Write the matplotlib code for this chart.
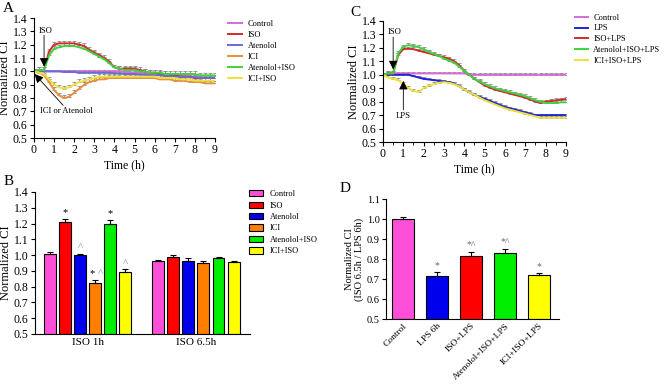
import numpy as np
import matplotlib
matplotlib.use("Agg")
import matplotlib.pyplot as plt

plt.rcParams['font.family'] = ['Liberation Serif', 'DejaVu Serif']
plt.rcParams['font.size'] = 8

# ---------------- data ----------------
time_h = [i * 0.25 for i in range(37)]

# Panel A
a_labels = ["Control", "ISO", "Atenolol", "ICI", "Atenolol+ISO", "ICI+ISO"]
a_colors = ["#D66BD6", "#D42A2A", "#6A6AD8", "#E8903A", "#3CD43C", "#EDE33C"]
a_control = [1.0, 1.0, 1.0, 1.0, 1.0, 1.0, 1.0, 1.0, 1.0, 1.0, 1.0, 1.0, 1.0, 1.0, 1.0, 1.0,
             1.0, 1.0, 0.995, 0.995, 0.99, 0.99, 0.99, 0.985, 0.98, 0.98, 0.975, 0.975, 0.97,
             0.97, 0.965, 0.96, 0.96, 0.955, 0.955, 0.95, 0.95]
a_iso = [1.0, 1.01, 1.01, 1.15, 1.20, 1.21, 1.21, 1.21, 1.21, 1.20, 1.19, 1.16, 1.14, 1.12,
         1.10, 1.07, 1.03, 1.02, 1.02, 1.02, 1.02, 1.01, 1.0, 0.99, 0.99, 0.98, 0.98, 0.97,
         0.97, 0.96, 0.96, 0.96, 0.95, 0.95, 0.95, 0.95, 0.95]
a_atenolol = [1.0, 1.0, 1.0, 1.0, 1.0, 1.0, 0.995, 0.995, 0.995, 0.99, 0.99, 0.99, 0.99, 0.99,
              0.99, 0.99, 0.985, 0.985, 0.98, 0.98, 0.98, 0.975, 0.975, 0.97, 0.97, 0.97,
              0.965, 0.965, 0.96, 0.96, 0.96, 0.955, 0.955, 0.95, 0.95, 0.95, 0.95]
a_ici = [1.0, 0.99, 0.97, 0.92, 0.86, 0.82, 0.80, 0.81, 0.84, 0.87, 0.90, 0.92, 0.93, 0.94,
         0.94, 0.95, 0.95, 0.95, 0.95, 0.95, 0.95, 0.95, 0.95, 0.95, 0.95, 0.94, 0.94, 0.94,
         0.93, 0.93, 0.93, 0.92, 0.92, 0.92, 0.91, 0.91, 0.91]
a_aten_iso = [1.0, 1.01, 1.01, 1.12, 1.17, 1.18, 1.19, 1.19, 1.19, 1.18, 1.17, 1.15, 1.13,
              1.11, 1.09, 1.06, 1.03, 1.02, 1.01, 1.01, 1.01, 1.0, 1.0, 0.99, 0.99, 0.99,
              0.98, 0.98, 0.98, 0.98, 0.98, 0.98, 0.98, 0.97, 0.97, 0.97, 0.97]
a_ici_iso = [1.0, 0.99, 0.98, 0.94, 0.90, 0.88, 0.87, 0.88, 0.90, 0.92, 0.93, 0.94, 0.95,
             0.96, 0.96, 0.96, 0.96, 0.96, 0.96, 0.96, 0.96, 0.96, 0.96, 0.96, 0.96, 0.95,
             0.95, 0.95, 0.95, 0.94, 0.94, 0.94, 0.93, 0.93, 0.93, 0.93, 0.93]
a_err = [0.012, 0.02, 0.012, 0.02, 0.02, 0.02]

# Panel C
c_labels = ["Control", "LPS", "ISO+LPS", "Atenolol+ISO+LPS", "ICI+ISO+LPS"]
c_colors = ["#D66BD6", "#2222D8", "#D42A2A", "#3CD43C", "#EDE33C"]
c_control = [1.0, 1.01, 1.01, 1.01, 1.01, 1.01, 1.01, 1.01, 1.01, 1.01, 1.01, 1.01, 1.01,
             1.01, 1.01, 1.01, 1.01, 1.0, 1.0, 1.0, 1.0, 1.0, 1.0, 1.0, 1.0, 1.0, 1.0, 1.0,
             1.0, 1.0, 1.0, 1.0, 1.0, 1.0, 1.0, 1.0, 1.0]
c_lps = [1.0, 1.0, 1.0, 1.0, 1.0, 1.0, 0.99, 0.98, 0.97, 0.965, 0.96, 0.955, 0.95, 0.945,
         0.935, 0.915, 0.89, 0.87, 0.85, 0.835, 0.82, 0.805, 0.79, 0.775, 0.76, 0.75, 0.74,
         0.73, 0.72, 0.71, 0.70, 0.70, 0.70, 0.70, 0.70, 0.70, 0.70]
c_iso_lps = [1.0, 1.01, 1.01, 1.15, 1.19, 1.195, 1.19, 1.18, 1.17, 1.16, 1.15, 1.14, 1.13,
             1.12, 1.10, 1.07, 1.03, 1.0, 0.97, 0.945, 0.92, 0.905, 0.89, 0.88, 0.87, 0.86,
             0.85, 0.84, 0.83, 0.815, 0.80, 0.79, 0.80, 0.805, 0.81, 0.815, 0.82]
c_aten_iso_lps = [1.0, 1.01, 1.01, 1.16, 1.21, 1.22, 1.215, 1.205, 1.19, 1.17, 1.155, 1.14,
                  1.12, 1.105, 1.09, 1.06, 1.03, 1.0, 0.97, 0.95, 0.93, 0.915, 0.90, 0.89,
                  0.88, 0.87, 0.86, 0.85, 0.84, 0.825, 0.81, 0.80, 0.79, 0.79, 0.79, 0.795, 0.795]
c_ici_iso_lps = [1.0, 0.98, 0.97, 0.96, 0.93, 0.90, 0.88, 0.87, 0.90, 0.92, 0.93, 0.94, 0.945,
                 0.94, 0.93, 0.915, 0.89, 0.87, 0.85, 0.83, 0.81, 0.795, 0.78, 0.765, 0.75,
                 0.74, 0.73, 0.72, 0.71, 0.70, 0.69, 0.68, 0.68, 0.68, 0.68, 0.68, 0.68]
c_err = [0.01, 0.012, 0.015, 0.015, 0.015]

# Panel B
b_groups = ["ISO 1h", "ISO 6.5h"]
b_labels = ["Control", "ISO", "Atenolol", "ICI", "Atenolol+ISO", "ICI+ISO"]
b_colors = ["#FF4FD8", "#FF0000", "#0000EE", "#FF8000", "#00EE00", "#FFFF00"]
b_iso1h = [1.01, 1.21, 1.00, 0.82, 1.20, 0.89]
b_iso1h_err = [0.008, 0.02, 0.008, 0.025, 0.025, 0.02]
b_iso65h = [0.96, 0.99, 0.965, 0.95, 0.98, 0.955]
b_iso65h_err = [0.01, 0.012, 0.015, 0.012, 0.005, 0.006]
b_sig1h = ["", "*", "", "*", "*", ""]
b_hat1h = ["", "", "^", "^", "", "^"]

# Panel D
d_labels = ["Control", "LPS 6h", "ISO+LPS", "Atenolol+ISO+LPS", "ICI+ISO+LPS"]
d_colors = ["#FF4FD8", "#0000EE", "#FF0000", "#00EE00", "#FFFF00"]
d_values = [1.0, 0.715, 0.815, 0.83, 0.72]
d_err = [0.01, 0.02, 0.02, 0.02, 0.01]
d_marks = ["", "*", "*^", "*^", "*"]

# ---------------- figure ----------------
fig = plt.figure(figsize=(6.64, 3.88), dpi=100)
TICK = 8.5
LEG = 6.0
ANN = 6.2
HAT = "#7F8FA8"

def style(ax, size=TICK):
    for s in ["top", "right"]:
        ax.spines[s].set_visible(False)
    ax.tick_params(direction="out", length=3, width=0.8, pad=1.5, labelsize=size)

def arrow(ax, tip, tail):
    ax.annotate("", xy=tip, xytext=tail,
                arrowprops=dict(arrowstyle="-|>", mutation_scale=13, color="black",
                                lw=0.6, shrinkA=0, shrinkB=0))

def line_panel(ax, series, colors, errs):
    t = np.array(time_h)
    for vals, col, e in zip(series, colors, errs):
        v = np.array(vals)
        ax.errorbar(t, v, yerr=[np.zeros_like(v), np.full_like(v, e)], fmt="none",
                    ecolor="#8C8C8C", elinewidth=0.6, capsize=1.5, capthick=0.6, zorder=1)
    for vals, col in zip(series, colors):
        ax.plot(time_h, vals, color=col, lw=1.4, zorder=2)
    ax.set_xlim(0, 9)
    ax.set_ylim(0.5, 1.4)
    ax.set_xticks(range(10))
    ax.set_xticks(np.arange(0, 9.01, 0.5), minor=True)
    ax.tick_params(which="minor", length=1.8, direction="out")
    ax.set_yticks(np.round(np.arange(0.5, 1.41, 0.1), 1))
    ax.set_yticklabels([f"{v:.1f}" for v in np.arange(0.5, 1.41, 0.1)])
    ax.set_xlabel("Time (h)", fontsize=8.5, labelpad=2)
    ax.set_ylabel("Normalized CI", fontsize=9, labelpad=1)
    style(ax)

# Panel A
axA = fig.add_axes([0.0512, 0.6443, 0.2726, 0.3093])
line_panel(axA, [a_control, a_iso, a_atenolol, a_ici, a_aten_iso, a_ici_iso], a_colors, a_err)
arrow(axA, (0.5, 1.035), (0.5, 1.27))
axA.text(0.6, 1.275, "ISO", fontsize=ANN, ha="center", va="bottom")
arrow(axA, (0.03, 0.98), (1.45, 0.745))
axA.text(1.6, 0.73, "ICI or Atenolol", fontsize=ANN, ha="center", va="top")
hA = [plt.Line2D([], [], color=c, lw=1.4) for c in a_colors]
fig.legend(hA, a_labels, loc="upper left", bbox_to_anchor=(0.343, 0.948), frameon=False,
           fontsize=LEG, handlelength=1.7, handletextpad=0.7, labelspacing=0.35,
           borderpad=0, borderaxespad=0)
fig.text(0.005, 0.995, "A", fontsize=11, va="top")

# Panel C
axC = fig.add_axes([0.5768, 0.634, 0.2756, 0.3119])
line_panel(axC, [c_control, c_lps, c_iso_lps, c_aten_iso_lps, c_ici_iso_lps], c_colors, c_err)
arrow(axC, (0.5, 1.04), (0.5, 1.28))
axC.text(0.55, 1.285, "ISO", fontsize=ANN, ha="center", va="bottom")
arrow(axC, (1.0, 0.955), (1.0, 0.74))
axC.text(1.0, 0.72, "LPS", fontsize=ANN, ha="center", va="top")
hC = [plt.Line2D([], [], color=c, lw=1.4) for c in c_colors]
fig.legend(hC, c_labels, loc="upper left", bbox_to_anchor=(0.866, 0.965), frameon=False,
           fontsize=LEG, handlelength=1.6, handletextpad=0.6, labelspacing=0.35,
           borderpad=0, borderaxespad=0)
fig.text(0.527, 0.985, "C", fontsize=11, va="top")

# Panel B
axB = fig.add_axes([0.0527, 0.1392, 0.3238, 0.366])
n = len(b_labels)
w = 0.111
step = 0.139
offs = (np.arange(n) - (n - 1) / 2) * step
for gi, (vals, errs) in enumerate([(b_iso1h, b_iso1h_err), (b_iso65h, b_iso65h_err)]):
    xs = gi + offs
    axB.bar(xs, np.array(vals) - 0.5, bottom=0.5, width=w, color=b_colors,
            edgecolor="black", linewidth=0.8, zorder=2)
    axB.errorbar(xs, vals, yerr=[np.zeros(n), errs], fmt="none", ecolor="black",
                 elinewidth=0.8, capsize=2, capthick=0.8, zorder=3)
    if gi == 0:
        for x, v, e, s, h in zip(xs, vals, errs, b_sig1h, b_hat1h):
            top = v + e + 0.01
            if s and h:
                axB.text(x - 0.035, top, "*", ha="center", va="bottom", fontsize=7.5)
                axB.text(x + 0.045, top, "^", ha="center", va="bottom", fontsize=8, color=HAT)
            elif s:
                axB.text(x, top, "*", ha="center", va="bottom", fontsize=7.5)
            elif h:
                axB.text(x, top, "^", ha="center", va="bottom", fontsize=8, color=HAT)
axB.set_xlim(-0.49, 1.5)
axB.set_ylim(0.5, 1.4)
axB.set_xticks([0, 1])
axB.set_xticklabels(b_groups)
axB.set_yticks(np.round(np.arange(0.5, 1.41, 0.1), 1))
axB.set_yticklabels([f"{v:.1f}" for v in np.arange(0.5, 1.41, 0.1)])
axB.set_ylabel("Normalized CI", fontsize=9, labelpad=1)
style(axB)
axB.tick_params(axis="x", length=0, pad=3, labelsize=8)
hB = [plt.Rectangle((0, 0), 1, 1, facecolor=c, edgecolor="black", lw=0.8) for c in b_colors]
fig.legend(hB, b_labels, loc="upper left", bbox_to_anchor=(0.375, 0.51), frameon=False,
           fontsize=LEG, handlelength=1.7, handleheight=0.8, handletextpad=0.8,
           labelspacing=0.4, borderpad=0, borderaxespad=0)
fig.text(0.005, 0.55, "B", fontsize=11, va="top")

# Panel D
axD = fig.add_axes([0.5813, 0.1778, 0.2605, 0.3093])
xd = np.arange(len(d_labels))
axD.bar(xd, np.array(d_values) - 0.5, bottom=0.5, width=0.65, color=d_colors,
        edgecolor="black", linewidth=0.8, zorder=2)
axD.errorbar(xd, d_values, yerr=[np.zeros(len(xd)), d_err], fmt="none", ecolor="black",
             elinewidth=0.8, capsize=2.5, capthick=0.8, zorder=3)
for x, v, e, m in zip(xd, d_values, d_err, d_marks):
    if m:
        axD.text(x, v + e + 0.012, m, ha="center", va="bottom", fontsize=7, color="#666666")
axD.set_xlim(-0.5, 4.59)
axD.set_ylim(0.5, 1.1)
axD.set_yticks(np.round(np.arange(0.5, 1.11, 0.1), 1))
axD.set_yticklabels([f"{v:.1f}" for v in np.arange(0.5, 1.11, 0.1)])
axD.set_xticks(xd)
axD.set_xticklabels(d_labels, rotation=45, ha="right", rotation_mode="anchor")
axD.set_ylabel("Normalized CI\n(ISO 6.5h / LPS 6h)", fontsize=7.5, labelpad=2, linespacing=1.0)
style(axD, size=7.5)
axD.tick_params(axis="x", length=0, pad=2, labelsize=6.8)
fig.text(0.512, 0.53, "D", fontsize=11, va="top")

fig.savefig("out.png", dpi=100)
